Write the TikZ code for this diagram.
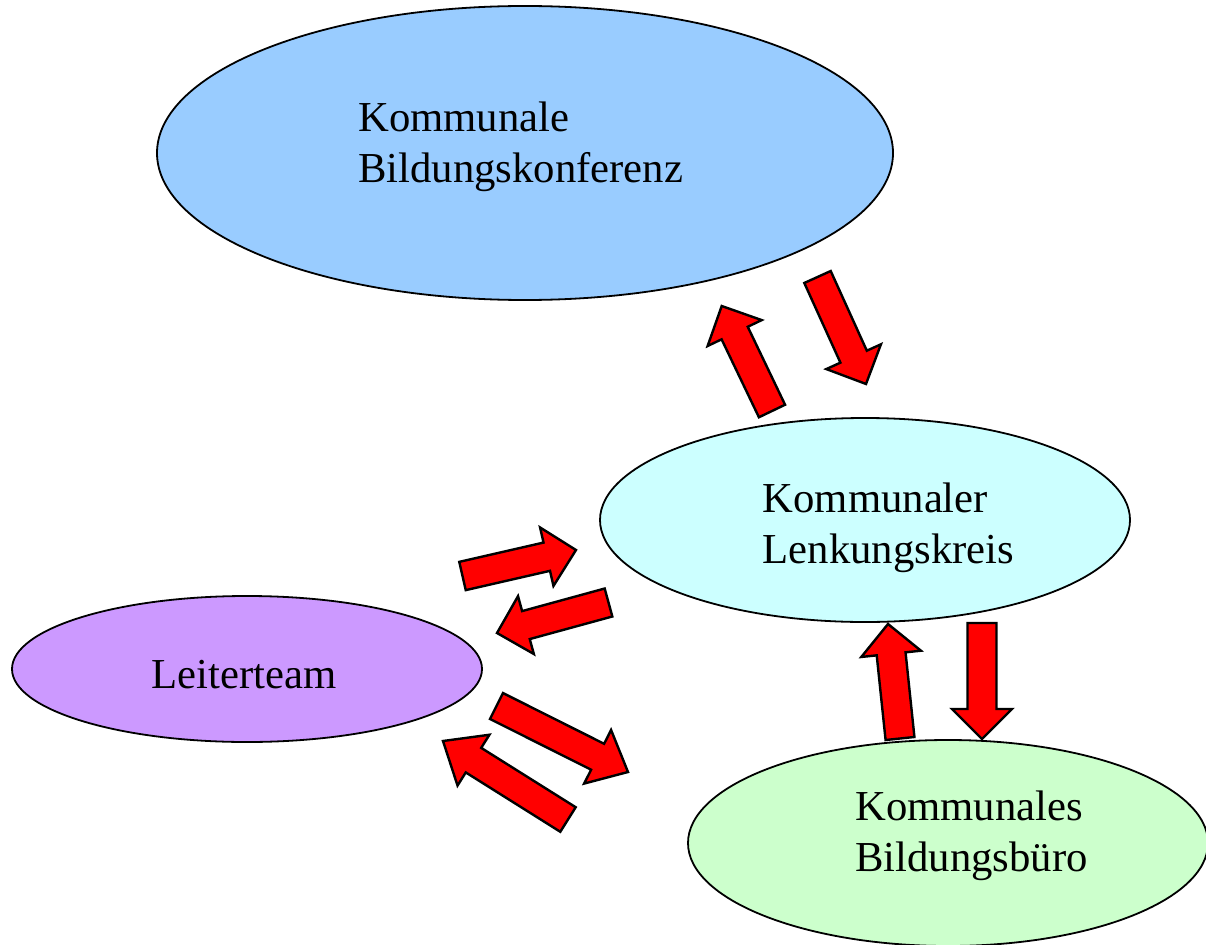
\documentclass[tikz,border=0pt]{standalone}
\usepackage{fontspec}
\setmainfont{Liberation Serif}
\usetikzlibrary{shapes.geometric,calc}
\definecolor{konfblue}{HTML}{99CCFF}
\definecolor{lenkcyan}{HTML}{CCFFFF}
\definecolor{leitviolet}{HTML}{CC99FF}
\definecolor{buerogreen}{HTML}{CCFFCC}
\definecolor{arrred}{HTML}{FF0000}
\tikzset{
  blob/.style={ellipse, draw=black, line width=1.8pt, inner sep=0pt},
  lbl/.style={anchor=base west, inner sep=0pt, align=left,
    font=\fontsize{42.7}{51}\selectfont},
  blockarrow/.style={draw=black, fill=arrred, line width=2.4pt, line join=miter},
}
% #1 head length, #2 tail coordinate, #3 tip coordinate
\newcommand\blockarr[3][30]{%
  \coordinate (ba-n) at ($(#3)!#1pt!(#2)$);
  \draw[blockarrow] ($(#2)!14.5pt!90:(#3)$) -- ($(ba-n)!14.5pt!90:(#3)$)
    -- ($(ba-n)!30pt!90:(#3)$) -- (#3) -- ($(ba-n)!30pt!-90:(#3)$)
    -- ($(ba-n)!14.5pt!-90:(#3)$) -- ($(#2)!14.5pt!-90:(#3)$) -- cycle;}
\begin{document}
\begin{tikzpicture}[x=1pt,y=-1pt]
\useasboundingbox (0,0) rectangle (1206,944);
\begin{scope}
\clip (0,0) rectangle (1206,944);
% ellipses
\node[blob, fill=konfblue, minimum width=736pt, minimum height=294pt] (konf) at (525,153) {};
\node[blob, fill=lenkcyan, minimum width=530pt, minimum height=204pt] (lenk) at (865,520) {};
\node[blob, fill=leitviolet, minimum width=470pt, minimum height=146pt] (leit) at (247,669) {};
\node[blob, fill=buerogreen, minimum width=520pt, minimum height=206pt] (buero) at (948,843) {};
\end{scope}
% labels (base anchor = baseline of the last line)
\node[lbl] (tkonf) at (358,182.5) {Kommunale\\Bildungskonferenz};
\node[lbl] (tlenk) at (762.5,563) {Kommunaler\\Lenkungskreis};
\node[lbl] (tleit) at (151.7,688.3) {Leiterteam};
\node[lbl] (tbuero) at (855,871.7) {Kommunales\\Bildungsbüro};
% arrow end points
\coordinate (a1t) at (772,411);   \coordinate (a1h) at (721.7,306);
\coordinate (a2t) at (817.5,277); \coordinate (a2h) at (866,384);
\coordinate (a3t) at (462.5,576); \coordinate (a3h) at (576,550);
\coordinate (a4t) at (608.5,602.5); \coordinate (a4h) at (497,633);
\coordinate (a5t) at (496.5,706); \coordinate (a5h) at (628,772);
\coordinate (a6t) at (568,819.5); \coordinate (a6h) at (443,741);
\coordinate (a7t) at (900,738.5); \coordinate (a7h) at (888,624);
\coordinate (a8t) at (982,623);   \coordinate (a8h) at (982,739);
\blockarr{a1t}{a1h}
\blockarr{a2t}{a2h}
\blockarr{a3t}{a3h}
\blockarr{a4t}{a4h}
\blockarr[34]{a5t}{a5h}
\blockarr[36]{a6t}{a6h}
\blockarr{a7t}{a7h}
\blockarr{a8t}{a8h}
\end{tikzpicture}
\end{document}
